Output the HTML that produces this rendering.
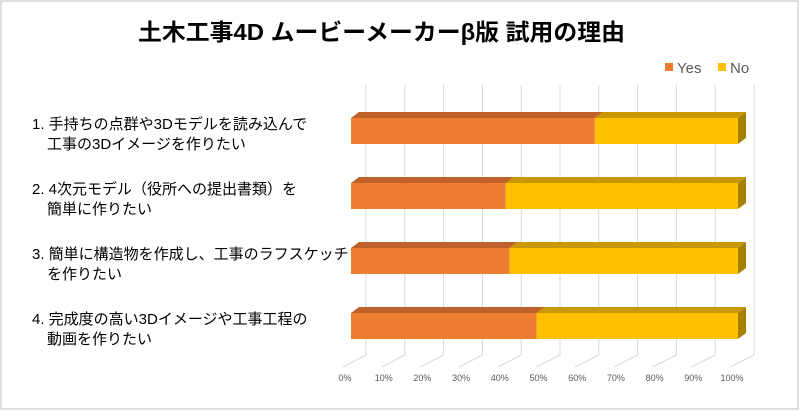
<!DOCTYPE html>
<html><head><meta charset="utf-8"><style>
html,body{margin:0;padding:0;background:#fff}
svg{display:block}
text{font-family:"Liberation Sans","Noto Sans CJK JP",sans-serif}
</style></head><body>
<svg id="chart" width="800" height="411">
<rect x="1" y="1" width="797" height="408" fill="#fff" stroke="#bfbfbf"/>
<text x="138" y="40" textLength="487" lengthAdjust="spacingAndGlyphs" font-size="23" font-weight="bold" fill="#000">土木工事4D ムービーメーカーβ版  試用の理由</text>
<g>
<rect x="665" y="63" width="8" height="8" fill="#ED7D31"/>
<text x="677" y="73" font-size="15" fill="#595959">Yes</text>
<rect x="718" y="63" width="8" height="8" fill="#FFC000"/>
<text x="730" y="73" font-size="15" fill="#595959">No</text>
</g>
<g id="grid"></g><g id="bars"></g><g id="labels"></g>
</svg>
<script>
const categories=[["1. 手持ちの点群や3Dモデルを読み込んで","　工事の3Dイメージを作りたい"],["2. 4次元モデル（役所への提出書類）を","　簡単に作りたい"],["3. 簡単に構造物を作成し、工事のラフスケッチ","　を作りたい"],["4. 完成度の高い3Dイメージや工事工程の","　動画を作りたい"]];
const yesValues=[63,40,41,48];
const noValues=[37,60,59,52];
const tickLabels=["0%","10%","20%","30%","40%","50%","60%","70%","80%","90%","100%"];
const NS="http://www.w3.org/2000/svg";
const X0=351,X1=738;
const x=v=>X0+(X1-X0)*v/100;
const bx=v=>366+(754-366)*v/100;
const yBar=i=>118+65*i;
function mk(tag,attrs,parent){const e=document.createElementNS(NS,tag);for(const k in attrs)e.setAttribute(k,attrs[k]);parent.appendChild(e);return e;}
const grid=document.getElementById('grid'),bars=document.getElementById('bars'),labels=document.getElementById('labels');
tickLabels.forEach((t,k)=>{const v=k*10;
 const l=mk('line',{x1:bx(v),y1:85,x2:bx(v),y2:355,stroke:'#d9d9d9','stroke-width':1},grid);
 
 
 const f=mk('line',{x1:bx(v),y1:355,x2:x(v)-8,y2:367,stroke:'#d9d9d9','stroke-width':1},grid);
 
 
 const tx=mk('text',{x:x(v)-6,y:381,'font-size':9,fill:'#595959','text-anchor':'middle'},grid);
 tx.textContent=t;
 
 
});
const dx=8,dy=6,h=26;
categories.forEach((c,i)=>{const y=yBar(i);
 const segs=[[0,yesValues[i],'#ED7D31','#C0602A','#A85020','bar-yes'],[yesValues[i],yesValues[i]+noValues[i],'#FFC000','#C99700','#A88000','bar-no']];
 segs.forEach(s=>{const a=x(s[0]),b=x(s[1]);
  const top=mk('polygon',{points:`${a},${y} ${a+dx},${y-dy} ${b+dx},${y-dy} ${b},${y}`,fill:s[3]},bars);
  
  
  const r=mk('rect',{x:a,y:y,width:b-a,height:h,fill:s[2]},bars);
  
  
 });
 const e=x(yesValues[i]+noValues[i]);
 const side=mk('polygon',{points:`${e},${y} ${e+dx},${y-dy} ${e+dx},${y+h-dy} ${e},${y+h}`,fill:'#A88000'},bars);
 
 
 c.forEach((ln,j)=>{const t=mk('text',{x:32,y:y+11+j*20,'font-size':15,fill:'#000'},labels);
  t.textContent=ln;
  
  
 });
});
</script>
</body></html>
